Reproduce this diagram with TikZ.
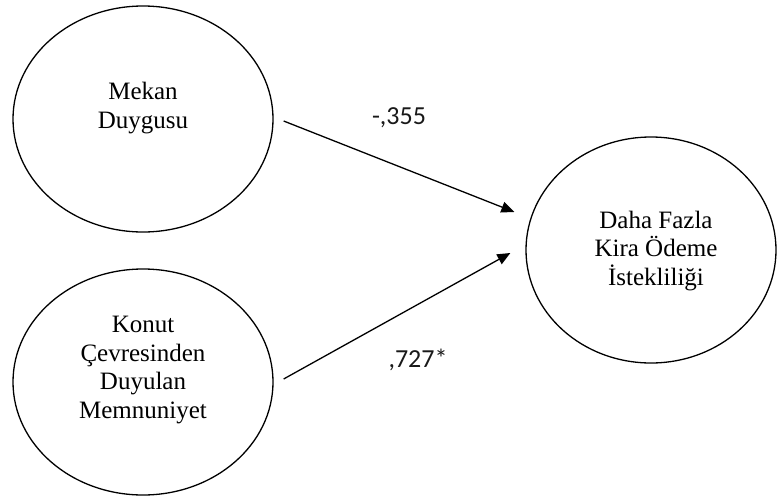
\documentclass[tikz,border=0pt]{standalone}
\usepackage{fontspec}
\setmainfont{Liberation Serif}
\newfontfamily\lblfont{Carlito}
\usetikzlibrary{arrows.meta,shapes.geometric}
\tikzset{
  latent/.style={draw=black, line width=1.3pt, ellipse, inner sep=0pt},
  ltext/.style={align=center, inner sep=0pt, font=\fontsize{25}{28.5}\selectfont},
  path/.style={draw=black, line width=1.3pt, -{Triangle[length=13pt,width=11pt]}},
  coef/.style={inner sep=0pt, font=\lblfont\fontsize{26}{30}\selectfont, text=black!90}
}
\begin{document}
\begin{tikzpicture}[x=1pt,y=-1pt]
\useasboundingbox (0,0) rectangle (777,498);
\node[latent, minimum width=260pt, minimum height=226pt] (md) at (143,119) {};
\node[latent, minimum width=260pt, minimum height=226pt] (km) at (143,382) {};
\node[latent, minimum width=250pt, minimum height=226pt] (dk) at (651,250) {};
\node[ltext] (mdt) at (143,108) {Mekan\\Duygusu};
\node[ltext] (kmt) at (143,370) {Konut\\Çevresinden\\Duyulan\\Memnuniyet};
\node[ltext] (dkt) at (656,251) {Daha Fazla\\Kira Ödeme\\İstekliliği};
\draw[path] ([shift={(10,2)}]md.east) -- ([shift={(-11,-38)}]dk.west);
\draw[path] ([shift={(10,-3)}]km.east) -- ([shift={(-15,3)}]dk.west);
\node[coef] (c1) at (399,118) {-,355};
\node[coef] (c2) at (418,360) {,727*};
\end{tikzpicture}
\end{document}
